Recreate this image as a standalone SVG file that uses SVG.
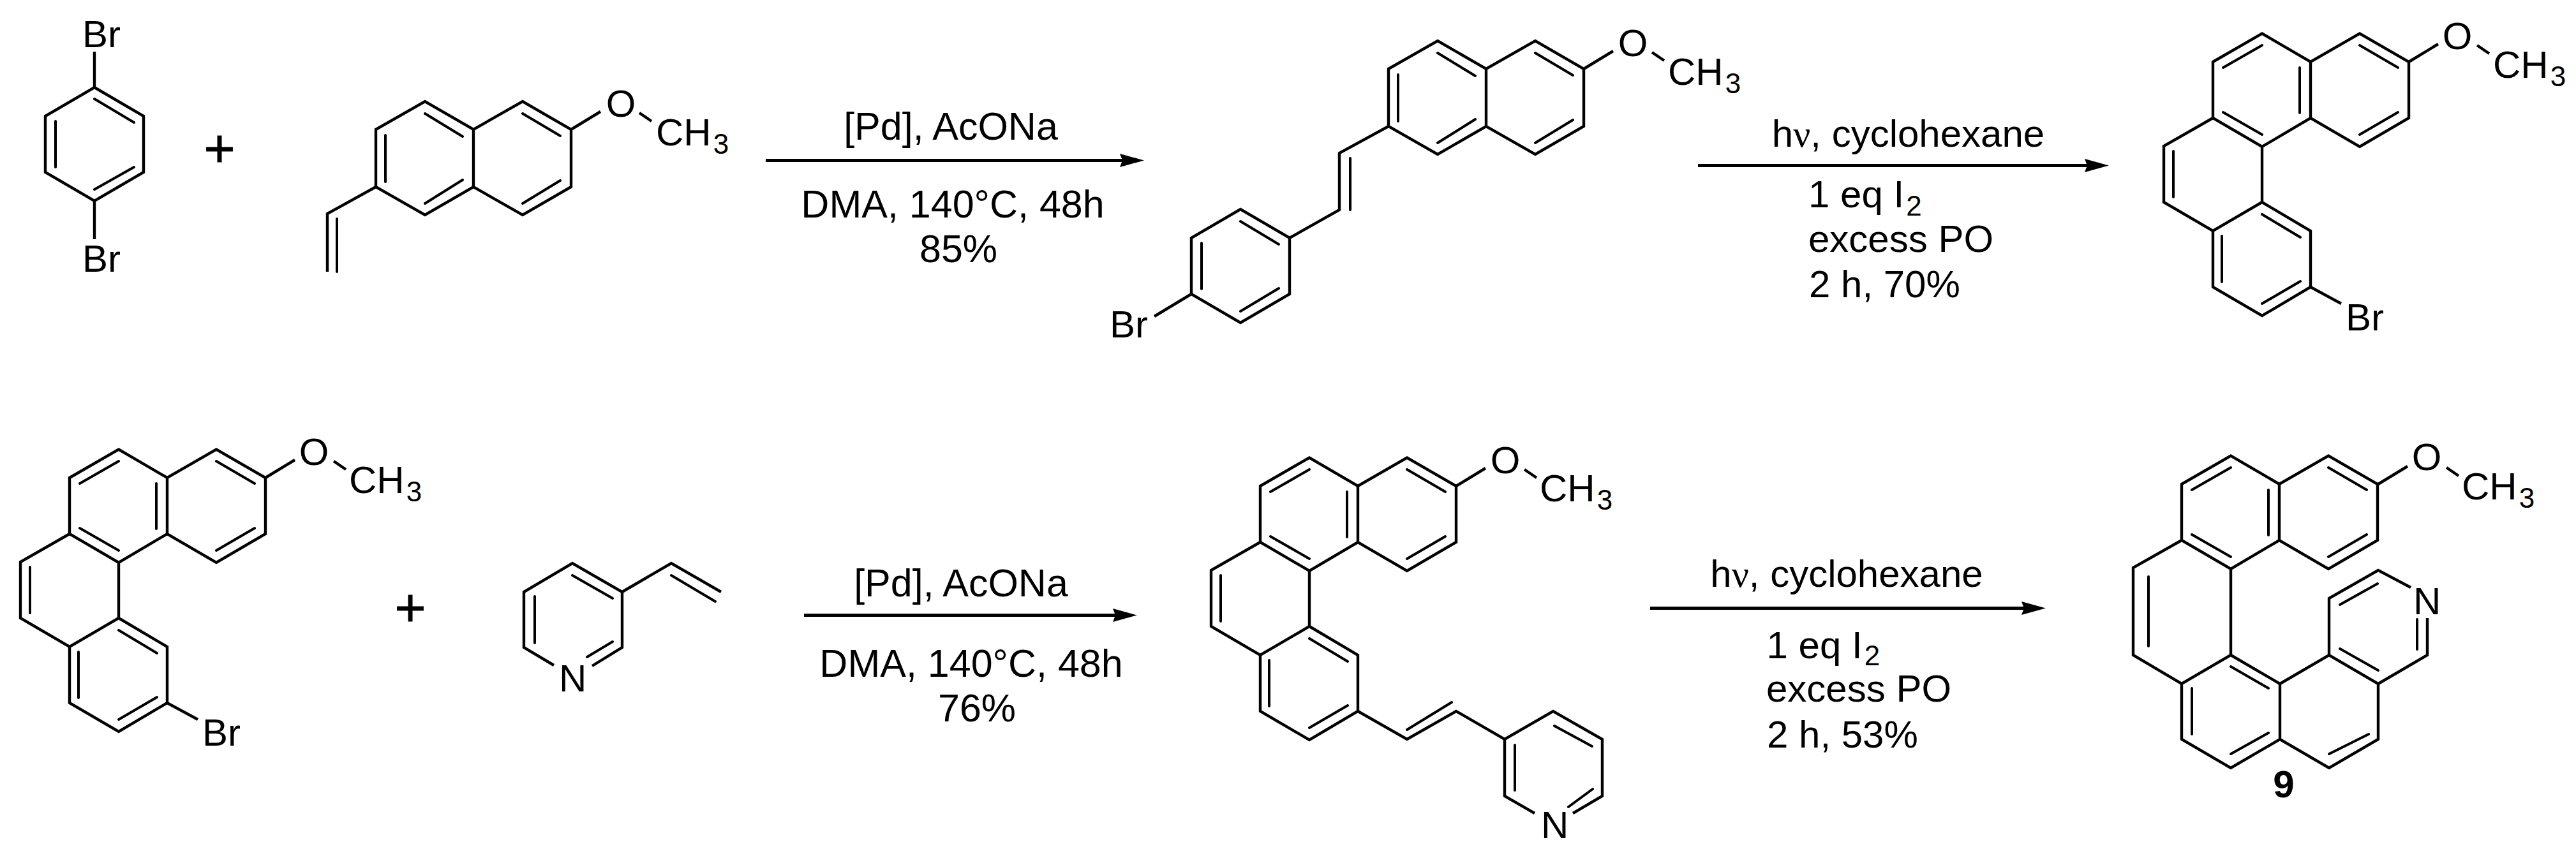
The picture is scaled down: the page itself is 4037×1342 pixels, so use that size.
<svg xmlns="http://www.w3.org/2000/svg" width="4037" height="1342" viewBox="0 0 4037 1342">
<style>
.b{fill:none;stroke:#000;stroke-width:4.4;stroke-linejoin:miter;stroke-linecap:butt}
.i{fill:none;stroke:#000;stroke-width:4;stroke-linecap:round}
.arrow{fill:none;stroke:#000;stroke-width:5}
text{font-family:"Liberation Sans",Arial,sans-serif;font-size:60px;fill:#000}
.m{text-anchor:middle}
.r{font-size:61px}
.s{font-size:44px}
.g{font-family:"Liberation Serif","Times New Roman",serif}
.plus{font-size:84px;text-anchor:middle;stroke:#000;stroke-width:1}
.bold{font-weight:bold}
</style>
<defs>
<marker id="head" markerUnits="userSpaceOnUse" markerWidth="38" markerHeight="21" viewBox="0 0 38 21" refX="4" refY="10.500" orient="auto"><path d="M0 0L38 10.500L0 21L4 10.500Z" fill="#000"/></marker>
<g id="ome"><path class="b" d="M0 0L46 -28M107 -26L126 -13"/></g>
<g id="naph">
<path class="b" d="M589 203L666 159L742 203L819 159L895 203V293L819 337L742 293L666 337L589 293ZM742 203V293"/>
<path class="i" d="M666 178L725 214M819 178L878 213M604 212V285M725 282L666 319M878 283L819 319"/>
</g>
<g id="phenTop">
<path class="b" d="M3468 97L3545 52.500L3621 97L3698 52.500L3775 97V185L3698 230L3621 185L3545 230L3468 185ZM3621 97V185"/>
<path class="i" d="M3484 106L3545 71M3698 71L3758 106M3604 106V177M3698 211L3758 176M3484 176L3545 211"/>
</g>
<g id="phenLow">
<path class="b" d="M3468 185L3391 229V317L3468 362L3545 317V230M3545 317L3621 362V450L3545 495L3468 450V362"/>
<path class="i" d="M3406 237V309M3482 370V442M3545 336L3605 372M3545 476L3605 441"/>
</g>
</defs>
<rect width="4037" height="1342" fill="#fff"/>

<g id="connectors">
<line class="arrow" x1="1200" y1="251.500" x2="1759" y2="251.500" marker-end="url(#head)"/>
<line class="arrow" x1="2661" y1="259.500" x2="3271" y2="259.500" marker-end="url(#head)"/>
<line class="arrow" x1="1260" y1="964.500" x2="1748" y2="964.500" marker-end="url(#head)"/>
<line class="arrow" x1="2586" y1="953.500" x2="3172" y2="953.500" marker-end="url(#head)"/>
</g>

<g id="dibromobenzene">
<path class="b" d="M148 137L225 182V270L148 315L71 270V182ZM148 81V137M148 315V375"/>
<path class="i" d="M148 155L210 192M87 190V262M148 297L210 262"/>
<text x="129" y="74">Br</text>
<text x="129" y="426">Br</text>
</g>
<text id="plus1" class="plus" x="344" y="261">+</text>

<g id="vinylmethoxynaphthalene">
<use href="#naph"/>
<path class="b" d="M589 293L513 335V426"/>
<path class="i" d="M528 343V426"/>
<use href="#ome" transform="translate(895 203)"/>
<text class="m" x="973" y="183">O</text>
<text x="1028" y="228">CH<tspan class="s" dx="3" dy="13">3</tspan></text>
</g>

<g id="reagents1">
<text class="m r" x="1490" y="219">[Pd], AcONa</text>
<text class="m r" x="1493" y="341">DMA, 140°C, 48h</text>
<text class="m r" x="1502" y="411">85%</text>
</g>

<g id="bromostyrylnaphthalene">
<use href="#naph" transform="translate(1587 -95)"/>
<path class="b" d="M2176 198L2099 240V329L2021 373L1944 328L1867 373V461L1944 506L2021 461V373M1867 461L1809 496"/>
<path class="i" d="M2116 248V329M1944 347L2004 383M1883 381V453M2004 452L1944 488"/>
<use href="#ome" transform="translate(2482 108)"/>
<text class="m" x="2559" y="88">O</text>
<text x="2614" y="133">CH<tspan class="s" dx="3" dy="13">3</tspan></text>
<text x="1739" y="529">Br</text>
</g>

<g id="reagents2">
<text class="m" x="2990.500" y="230">h<tspan class="g">ν</tspan>, cyclohexane</text>
<text x="2834" y="325">1 eq I<tspan class="s" dx="3" dy="13">2</tspan></text>
<text x="2834" y="395">excess PO</text>
<text x="2835" y="466">2 h, 70%</text>
</g>

<g id="bromophenanthrene">
<use href="#phenTop"/>
<use href="#phenLow"/>
<path class="b" d="M3621 450L3669 476"/>
<use href="#ome" transform="translate(3775 97)"/>
<text class="m" x="3851" y="77">O</text>
<text x="3907" y="122">CH<tspan class="s" dx="3" dy="13">3</tspan></text>
<text x="3676" y="518">Br</text>
</g>

<g id="bromophenanthrene2">
<use href="#phenTop" transform="translate(-3359 652)"/>
<use href="#phenLow" transform="translate(-3359 652)"/>
<use href="#ome" transform="translate(416 749)"/>
<path class="b" d="M262 1102L310 1128"/>
<text class="m" x="492" y="729">O</text>
<text x="547" y="773">CH<tspan class="s" dx="3" dy="13">3</tspan></text>
<text x="317" y="1169">Br</text>
</g>
<text id="plus2" class="plus" x="643" y="981">+</text>

<g id="vinylpyridine">
<path class="b" d="M868 1043L821 1015V928L897 883L975 928V1015L928 1044M975 928L1052 883L1130 928"/>
<path class="i" d="M838 935V1008M897 902L960 938M920 1030L960 1006M1052 902L1121 943"/>
<text x="876" y="1084">N</text>
</g>

<g id="reagents3">
<text class="m r" x="1506" y="935">[Pd], AcONa</text>
<text class="m r" x="1522" y="1061">DMA, 140°C, 48h</text>
<text class="m r" x="1531" y="1131">76%</text>
</g>

<g id="styrylpyridinephenanthrene">
<use href="#phenTop" transform="translate(-1493 665)"/>
<use href="#phenLow" transform="translate(-1493 665)"/>
<use href="#ome" transform="translate(2282 762)"/>
<path class="b" d="M2128 1115L2205 1159L2282 1115L2358 1159L2434 1115L2511 1159V1248L2465 1275M2405 1275L2358 1248V1159"/>
<path class="i" d="M2205 1144L2275 1101M2374 1168V1239M2436 1138L2495 1170M2458 1265L2496 1237"/>
<text class="m" x="2359" y="742">O</text>
<text x="2413" y="786">CH<tspan class="s" dx="3" dy="13">3</tspan></text>
<text x="2415" y="1314">N</text>
</g>

<g id="reagents4">
<text class="m" x="2894" y="920">h<tspan class="g">ν</tspan>, cyclohexane</text>
<text x="2768.500" y="1032">1 eq I<tspan class="s" dx="3" dy="11">2</tspan></text>
<text x="2768" y="1100">excess PO</text>
<text x="2769" y="1172">2 h, 53%</text>
</g>

<g id="product9">
<use href="#phenTop" transform="translate(-49 662)"/>
<use href="#ome" transform="translate(3727 759)"/>
<path class="b" d="M3419 847L3343 890V1027L3419 1072L3496 1027V892M3496 1027L3573 1072V1159L3496 1204L3419 1159V1072M3573 1072L3650 1027L3727 1072V1159L3650 1204L3573 1159M3650 1027V938L3727 894L3778 921M3804 969V1027L3727 1072"/>
<path class="i" d="M3367 904V1013M3435 1079V1151M3496 1045L3555 1079M3496 1182L3555 1149M3667 1017L3727 1051M3667 948L3726 915M3788 971V1018M3650 1182L3712 1151"/>
<text class="m" x="3803" y="737">O</text>
<text x="3858" y="783">CH<tspan class="s" dx="3" dy="13">3</tspan></text>
<text x="3782" y="963">N</text>
<text class="m bold" x="3579" y="1250">9</text>
</g>
</svg>
